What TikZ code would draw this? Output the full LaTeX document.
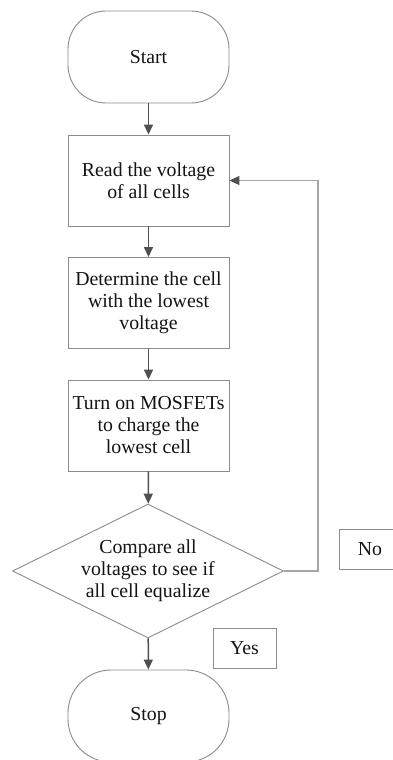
\documentclass[tikz,border=0pt]{standalone}
\usepackage{fontspec}
\setmainfont{Liberation Serif}
\usetikzlibrary{arrows.meta,shapes.geometric}
\definecolor{boxgray}{RGB}{140,140,140}
\definecolor{arrowgray}{RGB}{80,80,80}
\definecolor{loopgray}{RGB}{165,165,165}
\definecolor{textgray}{RGB}{20,20,20}
\tikzset{
  termbox/.style={draw=boxgray, rounded corners=#1, line width=0.9pt, align=center,
    minimum width=161, minimum height=92, inner sep=0pt, text=textgray,
    font=\fontsize{19.8}{22}\selectfont},
  stepbox/.style={draw=boxgray, line width=0.9pt, align=center,
    minimum width=161, minimum height=91, inner sep=0pt, text=textgray,
    font=\fontsize{19.8}{22}\selectfont},
  decbox/.style={draw=boxgray, diamond, aspect=2, line width=0.9pt, align=center,
    minimum width=271, minimum height=134, inner sep=0pt, text=textgray,
    font=\fontsize{19.8}{22}\selectfont},
  tagbox/.style={draw=boxgray, line width=0.9pt, align=center,
    minimum width=#1, minimum height=40, inner sep=0pt, text=textgray,
    font=\fontsize{19.8}{22}\selectfont},
  arrow/.style={-{Triangle[length=10pt,width=9pt]}, line width=1.5pt, draw=arrowgray},
  looparrow/.style={-{Triangle[length=10pt,width=9pt,color=arrowgray]}, line width=1.1pt, draw=loopgray}
}
\begin{document}
\begin{tikzpicture}[x=1pt,y=-1pt]
  \useasboundingbox (0,0) rectangle (393,760);
  \clip (0,0) rectangle (393,760);
  \fill[white] (0,0) rectangle (393,760);

  \node[termbox=38pt] (start) at (148.5,57) {Start};
  \node[stepbox] (read) at (148.5,180.5) {Read the voltage\\of all cells};
  \node[stepbox] (lowest) at (148.5,303) {Determine the cell\\with the lowest\\voltage};
  \node[stepbox] (mosfet) at (148.5,425.5) {Turn on MOSFETs\\to charge the\\lowest cell};
  \node[decbox] (compare) at (148,571) {Compare all\\voltages to see if\\all cell equalize};
  \node[termbox=43pt] (stop) at (148.5,716) {Stop};

  \node[tagbox=62] (no) at (370,549) {No};
  \node[tagbox=63] (yes) at (244.5,648) {Yes};

  \draw[arrow] (start) -- (read);
  \draw[arrow] (read) -- (lowest);
  \draw[arrow] (lowest) -- (mosfet);
  \draw[arrow] (mosfet) -- (compare);
  \draw[arrow] (compare) -- (stop);

  \coordinate (loopcorner) at (318,571);
  \draw[looparrow] (compare.east) -- (loopcorner) |- (read.east);
\end{tikzpicture}
\end{document}
